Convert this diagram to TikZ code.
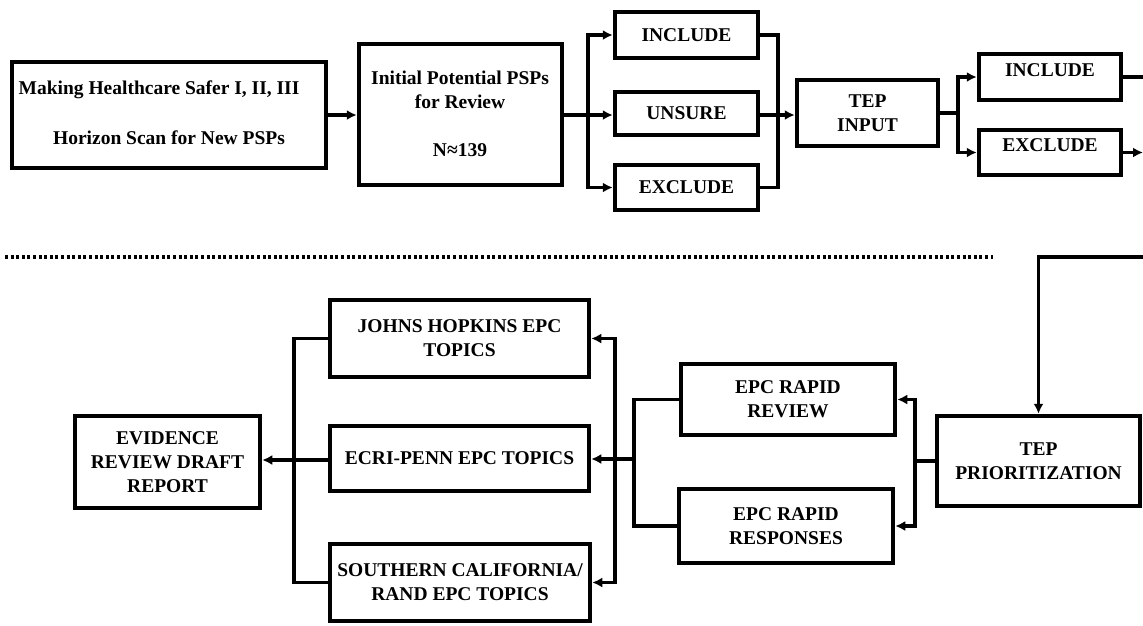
\documentclass[tikz,border=0pt]{standalone}
\usepackage{fontspec}
\setmainfont{Liberation Serif}
\usetikzlibrary{arrows.meta}
\begin{document}
\begin{tikzpicture}[x=1pt,y=-1pt,
  box/.style={draw,line width=4.5pt,rectangle,inner sep=0pt},
  txt/.style={font=\fontsize{19.5}{24}\selectfont\bfseries,align=center,inner sep=0pt},
  conn/.style={line width=3.4pt},
  arr/.style={conn,-{Latex[length=10pt,width=10pt]}},
  dotline/.style={line width=3.2pt,dash pattern=on 3pt off 2.6pt}]
\useasboundingbox (0,0) rectangle (1143,625);

% top row
\node[box,minimum width=314,minimum height=106] (src) at (169,115) {};
\node[txt] (srcA) at (159,90) {Making Healthcare Safer I, II, III};
\node[txt] (srcB) at (169,138) {Horizon Scan for New PSPs};

\node[box,minimum width=203,minimum height=141] (init) at (460.5,114.5) {};
\node[txt] (initA) at (460,89.5) {Initial Potential PSPs\\for Review};
\node[txt] (initB) at (460,150) {N≈139};

\node[box,txt,minimum width=143,minimum height=46] (inc1) at (686.5,35) {INCLUDE};
\node[box,txt,minimum width=143,minimum height=43] (uns) at (686.5,113.5) {UNSURE};
\node[box,txt,minimum width=143,minimum height=45] (exc1) at (686.5,187.5) {EXCLUDE};

\node[box,txt,minimum width=141,minimum height=66] (tep) at (867.5,113) {TEP\\INPUT};

\node[box,minimum width=142,minimum height=46] (inc2) at (1050,77) {};
\node[txt] (inc2t) at (1050,70) {INCLUDE};
\node[box,minimum width=142,minimum height=45] (exc2) at (1050,152.5) {};
\node[txt] (exc2t) at (1050,145) {EXCLUDE};

% bottom row
\node[box,txt,minimum width=203,minimum height=90] (prio) at (1038.5,461) {TEP\\PRIORITIZATION};
\node[box,txt,minimum width=214,minimum height=71] (rr) at (788,399.5) {EPC RAPID\\REVIEW};
\node[box,txt,minimum width=214,minimum height=74] (rs) at (786,526) {EPC RAPID\\RESPONSES};
\node[box,txt,minimum width=259,minimum height=77] (jh) at (459.5,338.5) {JOHNS HOPKINS EPC\\TOPICS};
\node[box,txt,minimum width=259,minimum height=65] (ecri) at (459.5,458.5) {ECRI-PENN EPC TOPICS};
\node[box,txt,minimum width=260,minimum height=77] (sc) at (460,582.5) {SOUTHERN CALIFORNIA/\\RAND EPC TOPICS};
\node[box,txt,minimum width=185,minimum height=92] (ev) at (167.5,462) {EVIDENCE\\REVIEW DRAFT\\REPORT};

% junction coordinates
\coordinate (s1) at (588,115);
\coordinate (m1) at (778,115);
\coordinate (s2) at (958,113);
\coordinate (eA) at (1143,77);
\coordinate (eB) at (1143,152.5);
\coordinate (eC) at (1143,257);
\coordinate (s3) at (915,461);
\coordinate (m2) at (634,459);
\coordinate (s4) at (615,459);
\coordinate (m3) at (294,460);
\coordinate (dl) at (5,257);
\coordinate (dr) at (993,257);

% top connectors
\draw[arr] (src.east) -- (src.east -| init.west);
\draw[conn] (init.east |- s1) -- (s1);
\draw[arr] (s1) |- (inc1.west);
\draw[arr] (s1) -- (uns.west |- s1);
\draw[arr] (s1) |- (exc1.west);
\draw[conn] (inc1.east) -| (m1);
\draw[conn] (exc1.east) -| (m1);
\draw[conn] (uns.east |- m1) -- (m1);
\draw[arr] (m1) -- (tep.west |- m1);
\draw[conn] (tep.east |- s2) -- (s2);
\draw[arr] (s2) |- (inc2.west);
\draw[arr] (s2) |- (exc2.west);
\draw[conn] (inc2.east) -- (eA);
\draw[arr] (exc2.east) -- (eB);

% divider
\draw[dotline] (dl) -- (dr);

% bottom connectors
\draw[arr] (eC) -| (prio.north);
\draw[conn] (prio.west |- s3) -- (s3);
\draw[arr] (s3) |- (rr.east);
\draw[arr] (s3) |- (rs.east);
\draw[conn] (rr.west) -| (m2);
\draw[conn] (rs.west) -| (m2);
\draw[arr] (m2) -- (ecri.east |- m2);
\draw[arr] (s4) |- (jh.east);
\draw[arr] (s4) |- (sc.east);
\draw[conn] (jh.west) -| (m3);
\draw[conn] (sc.west) -| (m3);
\draw[conn] (ecri.west |- m3) -- (m3);
\draw[arr] (m3) -- (ev.east |- m3);
\end{tikzpicture}
\end{document}
